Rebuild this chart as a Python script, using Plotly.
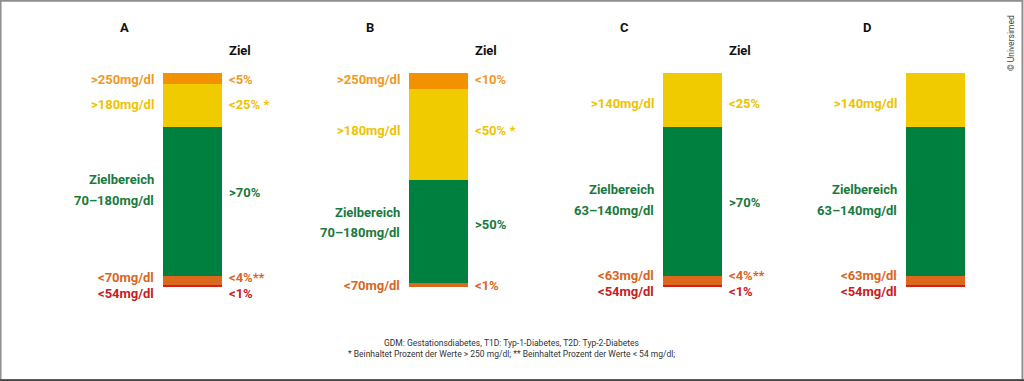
import plotly.graph_objects as go

# ---------------- data ----------------
panels = ["A", "B", "C", "D"]
very_low = [1, 0, 1, 1]        # <54 mg/dl
low = [4, 2, 4, 4]             # <70 / <63 mg/dl
in_range = [70, 48, 70, 70]    # Zielbereich
high = [20, 42.5, 25, 25]      # >180 / >140 mg/dl
very_high = [5, 7.5, 0, 0]     # >250 mg/dl

segment_names = ["<54mg/dl", "<70mg/dl", "Zielbereich", ">180mg/dl", ">250mg/dl"]
segment_values = [very_low, low, in_range, high, very_high]

left_labels = [
    [(">250mg/dl", "vh", 79), (">180mg/dl", "h", 105), ("Zielbereich", "t", 179),
     ("70–180mg/dl", "t", 200), ("<70mg/dl", "l", 277), ("<54mg/dl", "vl", 293)],
    [(">250mg/dl", "vh", 79), (">180mg/dl", "h", 130), ("Zielbereich", "t", 212),
     ("70–180mg/dl", "t", 232), ("<70mg/dl", "l", 285)],
    [(">140mg/dl", "h", 103), ("Zielbereich", "t", 189), ("63–140mg/dl", "t", 210),
     ("<63mg/dl", "l", 275), ("<54mg/dl", "vl", 291)],
    [(">140mg/dl", "h", 103), ("Zielbereich", "t", 189), ("63–140mg/dl", "t", 210),
     ("<63mg/dl", "l", 275), ("<54mg/dl", "vl", 291)],
]
right_labels = [
    [("<5%", "vh", 79), ("<25% *", "h", 105), (">70%", "t", 192),
     ("<4%**", "l", 277), ("<1%", "vl", 293)],
    [("<10%", "vh", 79), ("<50% *", "h", 130), (">50%", "t", 225), ("<1%", "l", 285)],
    [("<25%", "h", 103), (">70%", "t", 202), ("<4%**", "l", 275), ("<1%", "vl", 291)],
    [],
]
show_ziel = [True, True, True, False]

footnote1 = "GDM: Gestationsdiabetes, T1D: Typ-1-Diabetes, T2D: Typ-2-Diabetes"
footnote2 = "* Beinhaltet Prozent der Werte > 250 mg/dl; ** Beinhaltet Prozent der Werte < 54 mg/dl;"

# ---------------- style ----------------
W, H = 1024, 381
bar_x = [192.5, 438, 692, 935]
bar_w = 59
bar_colors = ["#D2201B", "#DB681C", "#00803E", "#F0CB00", "#F39200"]
text_colors = {"vl": "#C8201E", "l": "#D9661F", "t": "#187A3E", "h": "#EEC300", "vh": "#F09A25"}
FONT = "Roboto"

fig = go.Figure()
for name, vals, col in zip(segment_names, segment_values, bar_colors):
    fig.add_trace(go.Bar(x=bar_x, y=vals, name=name, width=bar_w,
                         marker=dict(color=col, line=dict(width=0)),
                         hoverinfo="skip"))

# y axis: 0 -> pixel 287, 100 -> pixel 73.3
rng = 100 * H / (287 - 73.3)
ymin = -(H - 287) / H * rng
ymax = ymin + rng

ann = []
def py(p):
    return 1 - p / H

for i, p in enumerate(panels):
    cx = bar_x[i]
    ann.append(dict(x=cx - 68, y=py(28), text="<b>%s</b>" % p, showarrow=False,
                    xref="x", yref="paper", font=dict(family=FONT, size=13, color="#111"),
                    xanchor="center", yanchor="middle"))
    if show_ziel[i]:
        ann.append(dict(x=cx + bar_w / 2 + 5, y=py(51), text="<b>Ziel</b>", showarrow=False,
                        xref="x", yref="paper", font=dict(family=FONT, size=13, color="#111"),
                        xanchor="left", yanchor="middle"))
    for txt, key, yp in left_labels[i]:
        ann.append(dict(x=cx - bar_w / 2 - 7, y=py(yp), text="<b>%s</b>" % txt, showarrow=False,
                        xref="x", yref="paper", font=dict(family=FONT, size=13, color=text_colors[key]),
                        xanchor="right", yanchor="middle"))
    for txt, key, yp in right_labels[i]:
        ann.append(dict(x=cx + bar_w / 2 + 5, y=py(yp), text="<b>%s</b>" % txt, showarrow=False,
                        xref="x", yref="paper", font=dict(family=FONT, size=13, color=text_colors[key]),
                        xanchor="left", yanchor="middle"))

ann.append(dict(x=511, y=py(343), text=footnote1, showarrow=False, xref="x", yref="paper",
                font=dict(family=FONT, size=8.5, color="#333"), xanchor="center", yanchor="middle"))
ann.append(dict(x=511, y=py(354), text=footnote2, showarrow=False, xref="x", yref="paper",
                font=dict(family=FONT, size=8.5, color="#333"), xanchor="center", yanchor="middle"))
ann.append(dict(x=1011, y=py(43), text="© Universimed", showarrow=False, xref="x", yref="paper",
                textangle=-90, font=dict(family=FONT, size=8.5, color="#444"),
                xanchor="center", yanchor="middle"))

shapes = [
    dict(type="rect", xref="paper", yref="paper", x0=0.0005, x1=0.9985, y0=0.002, y1=0.998,
         line=dict(color="#8f8f8f", width=2), fillcolor="rgba(0,0,0,0)"),
    dict(type="line", xref="paper", yref="paper", x0=0, x1=1, y0=0.002, y1=0.002,
         line=dict(color="#444", width=2)),
]

fig.update_layout(
    width=W, height=H, barmode="stack", bargap=0,
    margin=dict(l=0, r=0, t=0, b=0),
    paper_bgcolor="white", plot_bgcolor="white",
    showlegend=False,
    xaxis=dict(range=[0, W], visible=False, fixedrange=True),
    yaxis=dict(range=[ymin, ymax], visible=False, fixedrange=True),
    annotations=ann, shapes=shapes,
)

fig.write_html("out.html", config={"displayModeBar": False},
               post_script="document.body.style.margin='0';document.body.style.overflow='hidden';")
